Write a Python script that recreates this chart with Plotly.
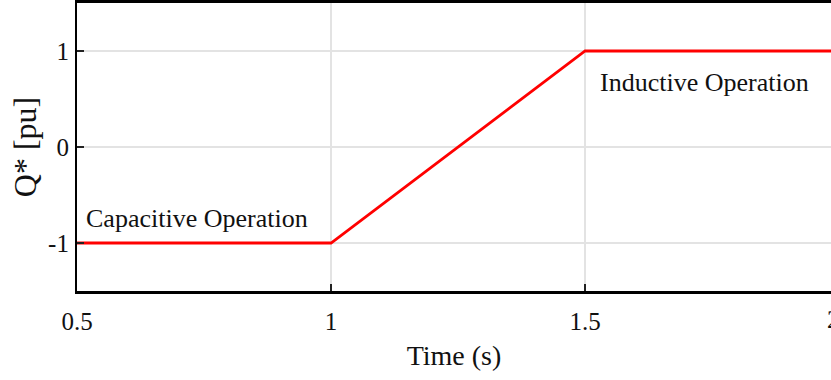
import plotly.graph_objects as go

# Data
time_s = [0.5, 1.0, 1.5, 2.0]
q_ref = [-1, -1, 1, 1]

x_tickvals = [0.5, 1.0, 1.5]
x_ticktext = ["0.5", "1", "1.5"]
y_tickvals = [-1, 0, 1]
y_ticktext = ["-1", "0", "1"]
last_x_tick = "2"

x_range = [0.5, 1.984]
y_range = [-1.5, 1.5]

FONT = "Liberation Serif, Times New Roman, serif"

fig = go.Figure()
fig.add_trace(go.Scatter(
    x=time_s, y=q_ref, mode="lines",
    line=dict(color="#ff0000", width=2.8),
    showlegend=False, hoverinfo="skip",
))

fig.add_annotation(x=0.514, y=-0.74, xref="x", yref="y", text="Capacitive Operation",
                   showarrow=False, xanchor="left", yanchor="middle",
                   font=dict(family=FONT, size=26, color="#111111"))
fig.add_annotation(x=1.526, y=0.67, xref="x", yref="y", text="Inductive Operation",
                   showarrow=False, xanchor="left", yanchor="middle",
                   font=dict(family=FONT, size=26, color="#111111"))
# partially visible last tick label at the clipped right edge
fig.add_annotation(x=1.0, y=0, xref="paper", yref="paper", text=last_x_tick,
                   showarrow=False, xanchor="left", yanchor="top", yshift=-13, xshift=-6,
                   font=dict(family=FONT, size=25, color="#111111"))

fig.update_layout(
    width=831, height=380,
    margin=dict(l=77, r=0, t=3, b=89),
    paper_bgcolor="white", plot_bgcolor="white",
    font=dict(family=FONT, color="#111111"),
)
fig.update_xaxes(
    range=x_range, tickvals=x_tickvals, ticktext=x_ticktext,
    showgrid=True, gridcolor="#e3e3e3", gridwidth=1.5,
    showline=True, linecolor="black", linewidth=2.5, mirror=True,
    ticks="inside", ticklen=7, tickcolor="#222222", tickwidth=1.5,
    tickfont=dict(family=FONT, size=25, color="#111111"),
    ticklabelstandoff=6,
    zeroline=False,
    title=dict(text="Time (s)", font=dict(family=FONT, size=28, color="#111111"), standoff=12),
)
fig.update_yaxes(
    range=y_range, tickvals=y_tickvals, ticktext=y_ticktext,
    showgrid=True, gridcolor="#e3e3e3", gridwidth=1.5,
    showline=True, linecolor="black", linewidth=2.2, mirror=False,
    ticks="inside", ticklen=7, tickcolor="#222222", tickwidth=1.5,
    tickfont=dict(family=FONT, size=25, color="#111111"),
    ticklabelstandoff=1,
    zeroline=False,
    title=dict(text="Q* [pu]", font=dict(family=FONT, size=32, color="#111111"), standoff=2),
)

fig.write_html("out.html")
